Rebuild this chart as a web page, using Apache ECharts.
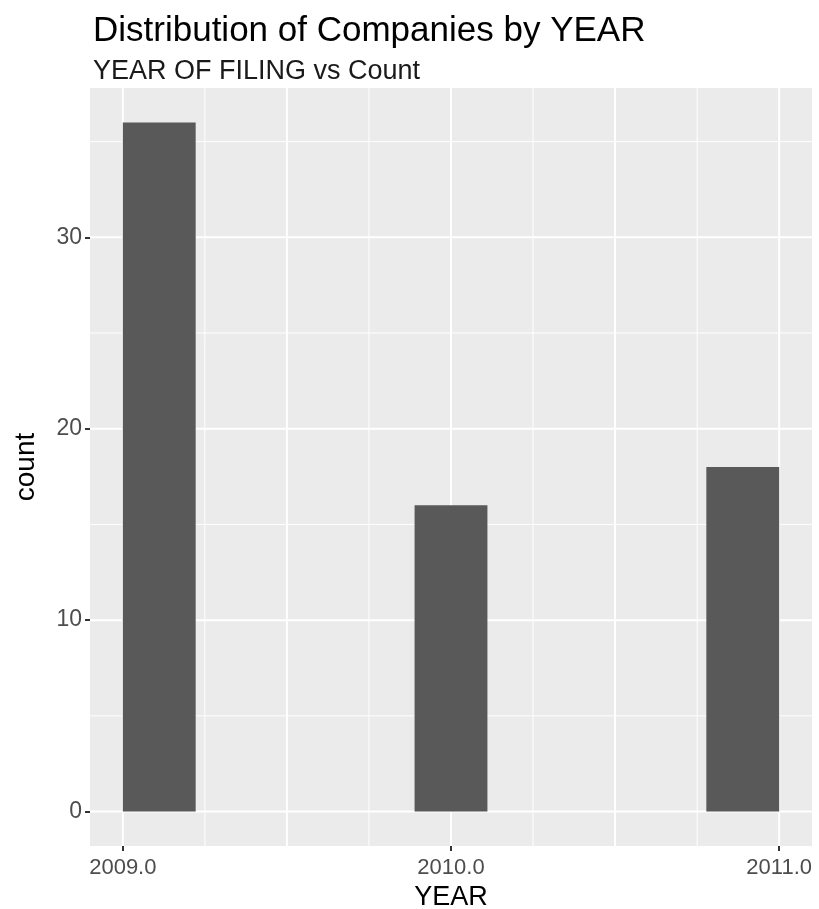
<!DOCTYPE html>
<html>
<head>
<meta charset="utf-8">
<script src="https://cdn.jsdelivr.net/npm/echarts@6/dist/echarts.min.js"></script>
<style>
  html, body { margin: 0; padding: 0; background: #ffffff; }
  #chart { width: 819px; height: 909px; }
</style>
</head>
<body>
<div id="chart"></div>
<script>
// ---- data ----
const years = [2009, 2010, 2011];
const counts = [36, 16, 18];
const binLeft = [2009.0, 2009.889, 2010.778];
const binRight = [2009.222, 2010.111, 2011.0];

// ---- axis / tick values ----
const xTickLabels = [2009, 2010, 2011];
const yTickLabels = [0, 10, 20, 30];
const xMajorGrid = [2009, 2009.5, 2010, 2010.5, 2011];
const xMinorGrid = [2009.25, 2009.75, 2010.25, 2010.75];
const yMajorGrid = [0, 10, 20, 30];
const yMinorGrid = [5, 15, 25, 35];

const FONT = '"Liberation Sans", Arial, Helvetica, sans-serif';

const gridData = [];
xMinorGrid.forEach(v => gridData.push(['v', v, 0]));
yMinorGrid.forEach(v => gridData.push(['h', v, 0]));
xMajorGrid.forEach(v => gridData.push(['v', v, 1]));
yMajorGrid.forEach(v => gridData.push(['h', v, 1]));

const barData = years.map((y, i) => [binLeft[i], binRight[i], counts[i], y]);

const chart = echarts.init(document.getElementById('chart'), null, { renderer: 'canvas' });

const option = {
  backgroundColor: '#ffffff',
  animation: false,
  title: {
    text: 'Distribution of Companies by YEAR',
    subtext: 'YEAR OF FILING vs Count',
    left: 88,
    top: 9,
    itemGap: 9,
    textStyle: { fontFamily: FONT, fontSize: 35, fontWeight: 'normal', color: '#000000' },
    subtextStyle: { fontFamily: FONT, fontSize: 27, color: '#1a1a1a' }
  },
  grid: {
    left: 90, right: 7, top: 88, bottom: 63,
    containLabel: false,
    outerBoundsMode: 'none',
    show: true,
    backgroundColor: '#EBEBEB',
    borderWidth: 0
  },
  xAxis: {
    type: 'value',
    min: 2008.9,
    max: 2011.1,
    name: 'YEAR',
    nameLocation: 'middle',
    nameGap: 37,
    nameTextStyle: { fontFamily: FONT, fontSize: 27, color: '#000000' },
    axisLine: { show: false, onZero: false },
    axisTick: { show: true, customValues: xTickLabels, length: 5, lineStyle: { color: '#333333', width: 2 } },
    axisLabel: {
      customValues: xTickLabels,
      formatter: v => Number(v).toFixed(1),
      fontFamily: FONT, fontSize: 22, color: '#4D4D4D', margin: 11
    },
    splitLine: { show: false }
  },
  yAxis: {
    type: 'value',
    min: -1.8,
    max: 37.8,
    name: 'count',
    nameLocation: 'middle',
    nameRotate: 90,
    nameGap: 50,
    nameTextStyle: { fontFamily: FONT, fontSize: 28, color: '#000000' },
    axisLine: { show: false, onZero: false },
    axisTick: { show: true, customValues: yTickLabels, length: 5, lineStyle: { color: '#333333', width: 2 } },
    axisLabel: {
      customValues: yTickLabels,
      fontFamily: FONT, fontSize: 23, color: '#4D4D4D', margin: 8
    },
    splitLine: { show: false }
  },
  series: [
    {
      type: 'custom',
      name: 'gridlines',
      z: 1,
      silent: true,
      data: gridData,
      renderItem: function (params, api) {
        const cs = params.coordSys;
        const kind = gridData[params.dataIndex][0];
        const val = api.value(1);
        const major = api.value(2) === 1;
        let shape;
        if (kind === 'v') {
          const p = api.coord([val, 0]);
          shape = { x1: p[0], y1: cs.y, x2: p[0], y2: cs.y + cs.height };
        } else {
          const p = api.coord([2010, val]);
          shape = { x1: cs.x, y1: p[1], x2: cs.x + cs.width, y2: p[1] };
        }
        return {
          type: 'line',
          shape: shape,
          style: { stroke: '#FFFFFF', lineWidth: major ? 2 : 1 }
        };
      },
      encode: { x: 1, y: 1 }
    },
    {
      type: 'custom',
      name: 'count',
      z: 2,
      data: barData,
      encode: { x: [0, 1], y: 2 },
      renderItem: function (params, api) {
        const p0 = api.coord([api.value(0), 0]);
        const p1 = api.coord([api.value(1), api.value(2)]);
        return {
          type: 'rect',
          shape: { x: p0[0], y: p1[1], width: p1[0] - p0[0], height: p0[1] - p1[1] },
          style: { fill: '#595959' }
        };
      }
    }
  ]
};

chart.setOption(option);
</script>
</body>
</html>
